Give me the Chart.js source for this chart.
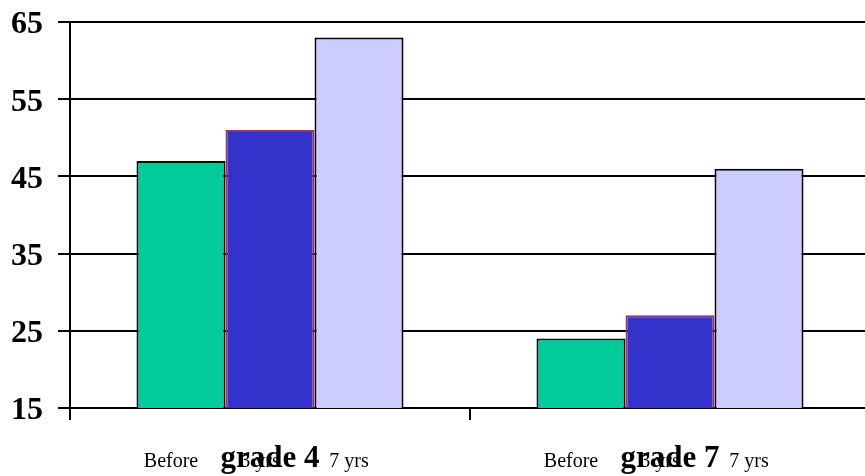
<!DOCTYPE html>
<html>
<head>
<meta charset="utf-8">
<script src="https://cdn.jsdelivr.net/npm/chart.js@4/dist/chart.umd.min.js"></script>
<style>
  html, body { margin: 0; padding: 0; background: #fff; overflow: hidden; }
  #wrap { width: 870px; height: 476px; }
</style>
</head>
<body>
<div id="wrap"><canvas id="c" width="870" height="476"></canvas></div>
<script>
// Grades shown on the category axis
const grades = ['grade 4', 'grade 7'];
// Series names, printed under each bar
const seriesNames = ['Before', '3 yrs', '7 yrs'];
// Scores per series, one value per grade
const beforeValues = [47, 24];
const threeYrValues = [51, 27];
const sevenYrValues = [63, 46];
// Value axis range
const yMin = 15;
const yMax = 65;
const yStep = 10;

const fills = ['#00CC99', '#3333CC', '#CCCCFF'];
const edges = ['#000000', '#993366', '#000000'];
const seriesValues = [beforeValues, threeYrValues, sevenYrValues];

// Writes the series name below every bar
const barNames = {
  id: 'barNames',
  afterDraw(chart) {
    const ctx = chart.ctx;
    ctx.save();
    ctx.font = '20px "Liberation Serif", "Times New Roman", serif';
    ctx.fillStyle = '#000';
    ctx.textAlign = 'center';
    ctx.textBaseline = 'alphabetic';
    chart.data.datasets.forEach((ds, i) => {
      chart.getDatasetMeta(i).data.forEach(bar => {
        ctx.fillText(seriesNames[i], bar.x - 10, 467);
      });
    });
    ctx.restore();
  }
};

new Chart(document.getElementById('c'), {
  type: 'bar',
  data: {
    labels: grades,
    datasets: seriesValues.map((vals, i) => ({
      label: seriesNames[i],
      data: vals,
      backgroundColor: fills[i],
      borderColor: edges[i],
      borderWidth: 2,
      categoryPercentage: 0.6675,
      barPercentage: 1.0
    }))
  },
  options: {
    responsive: false,
    animation: false,
    events: [],
    layout: { padding: { top: 22, left: 0, right: 0, bottom: 0 } },
    plugins: { legend: { display: false }, tooltip: { enabled: false } },
    scales: {
      x: {
        afterFit(s) { s.height = 68; s.paddingLeft = 0; s.paddingRight = 0; },
        grid: {
          offset: true,
          drawOnChartArea: false,
          drawTicks: true,
          tickLength: 12,
          color: '#000',
          lineWidth: 2
        },
        border: { display: true, color: '#000', width: 2 },
        ticks: {
          color: '#000',
          padding: 20,
          font: { family: '"Liberation Serif", "Times New Roman", serif', size: 31, weight: 'bold' }
        }
      },
      y: {
        min: yMin,
        max: yMax,
        afterFit(s) { s.width = 70; s.paddingTop = 0; s.paddingBottom = 0; },
        grid: {
          color: '#000',
          lineWidth: 2,
          drawTicks: true,
          tickLength: 12
        },
        border: { display: true, color: '#000', width: 2 },
        ticks: {
          stepSize: yStep,
          color: '#000',
          padding: 15,
          // empty first line nudges each number slightly below its grid line
          callback: v => ['', String(v)],
          font: { family: '"Liberation Serif", "Times New Roman", serif', size: 32, weight: 'bold', lineHeight: 0.2 }
        }
      }
    }
  },
  plugins: [barNames]
});
</script>
</body>
</html>
